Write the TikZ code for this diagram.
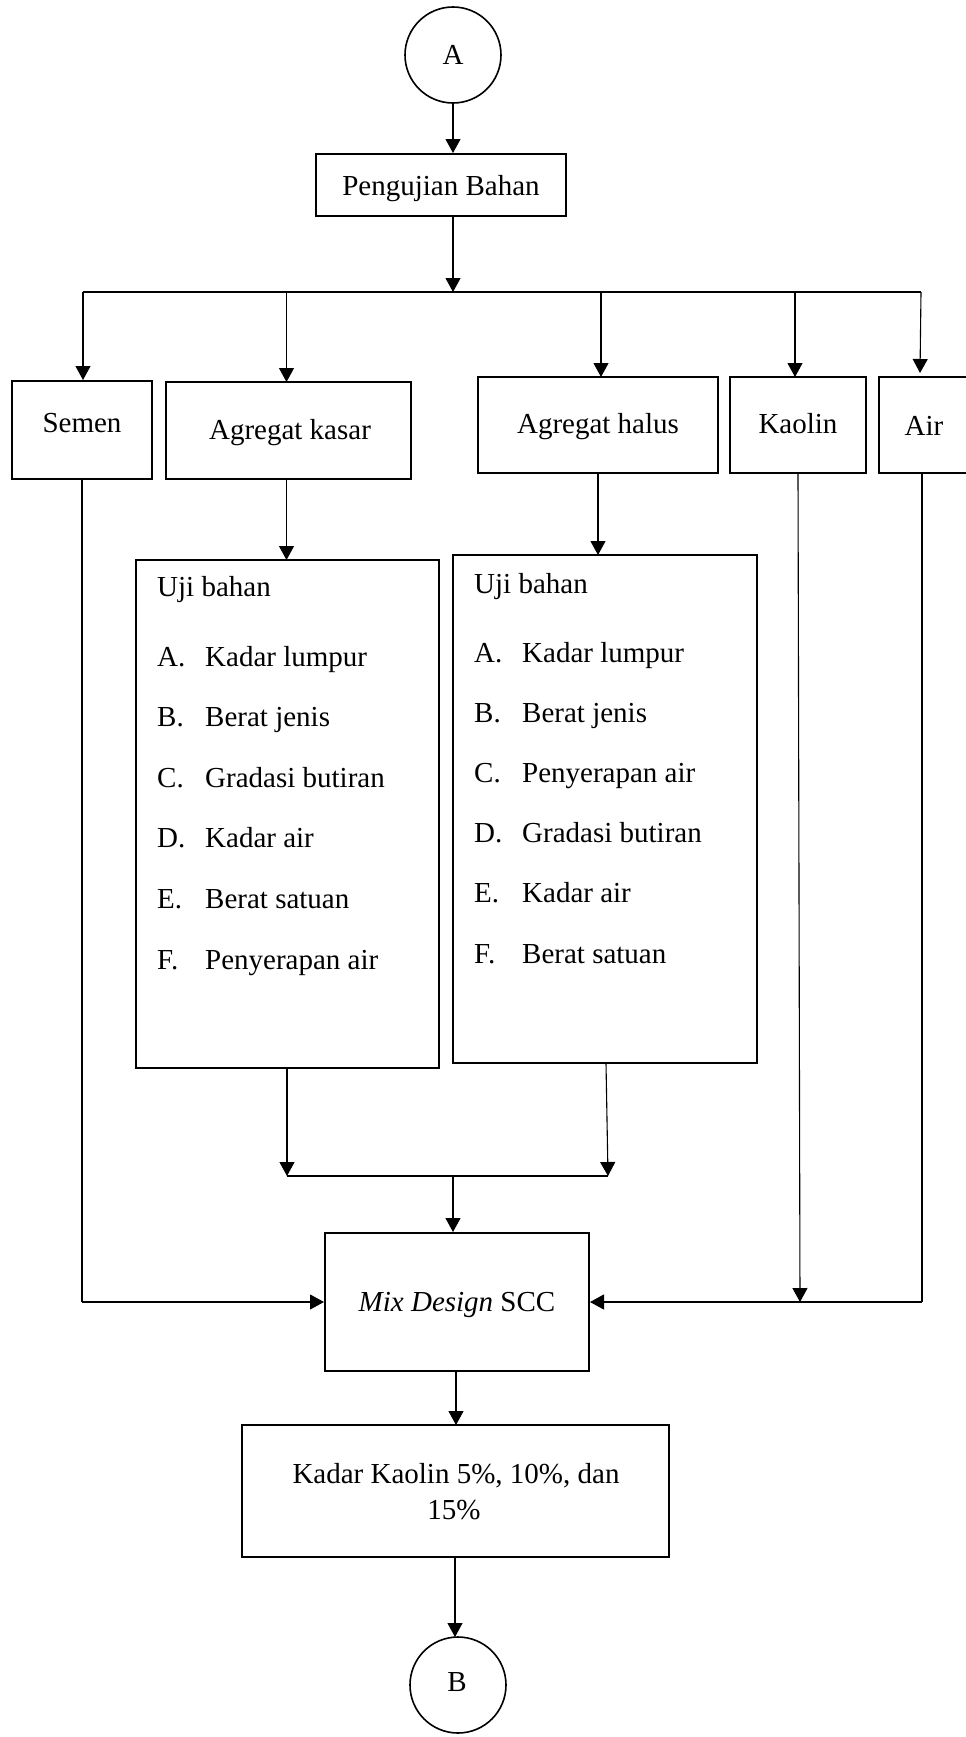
\documentclass[tikz,border=0pt]{standalone}
\usepackage{fontspec}
\setmainfont{Liberation Serif}
\usetikzlibrary{arrows.meta}
\tikzset{
  box/.style={draw, line width=2pt, inner sep=0pt},
  lbl/.style={anchor=base, inner sep=0pt, font=\fontsize{29}{37}\selectfont},
  lft/.style={anchor=base west, inner sep=0pt, font=\fontsize{29}{37}\selectfont},
  conn/.style={line width=1.1pt},
  arr/.style={conn, -{Triangle[length=14pt,width=15pt]}},
  circ/.style={draw, circle, line width=1.6pt, minimum size=96pt, inner sep=0pt}
}
\newcommand{\boxat}[5]{\node[box, minimum width=#4pt, minimum height=#5pt] (#1) at (#2,#3) {};}
\begin{document}
\begin{tikzpicture}[x=1pt,y=-1pt]
\clip (0,0) rectangle (966,1737);
\fill[white] (0,0) rectangle (966,1737);
% circles
\node[circ] (A) at (453,55) {};
\node[lbl] (Atxt) at (453,64) {A};
\node[circ] (B) at (458,1685) {};
\node[lbl] (Btxt) at (457,1691) {B};
% boxes
\boxat{peng}{441}{185}{250}{62}
\node[lbl] (pengt) at (441,195) {Pengujian Bahan};
\boxat{semen}{82}{430}{140}{98}
\node[lbl] (sement) at (82,432) {Semen};
\boxat{kasar}{288.5}{430.5}{245}{97}
\node[lbl] (kasart) at (290,439) {Agregat kasar};
\boxat{halus}{598}{425}{240}{96}
\node[lbl] (halust) at (598,433) {Agregat halus};
\boxat{kaolin}{798}{425}{136}{96}
\node[lbl] (kaolint) at (798,433) {Kaolin};
\boxat{air}{934.5}{425}{111}{96}
\node[lbl] (airt) at (924,435) {Air};
\boxat{uji1}{287.5}{814}{303}{508}
\boxat{uji2}{605}{809}{304}{508}
\boxat{mix}{457}{1302}{264}{138}
\node[lbl] (mixt) at (457,1311) {\textit{Mix Design} SCC};
\boxat{kadar}{455.5}{1491}{427}{132}
\node[lbl] (kadart1) at (456,1483) {Kadar Kaolin 5\%, 10\%, dan};
\node[lbl] (kadart2) at (454,1519) {15\%};
% uji bahan lists
\node[lft] (u1h) at (157,596) {Uji bahan};
\foreach \L/\T/\y [count=\i] in {A./Kadar lumpur/666, B./Berat jenis/726, C./Gradasi butiran/787, D./Kadar air/847, E./Berat satuan/908, F./Penyerapan air/969}{
  \node[lft] (u1l\i) at (157,\y) {\L};
  \node[lft] (u1t\i) at (205,\y) {\T};
}
\node[lft] (u2h) at (474,593) {Uji bahan};
\foreach \L/\T/\y [count=\i] in {A./Kadar lumpur/662, B./Berat jenis/722, C./Penyerapan air/782, D./Gradasi butiran/842, E./Kadar air/902, F./Berat satuan/963}{
  \node[lft] (u2l\i) at (474,\y) {\L};
  \node[lft] (u2t\i) at (522,\y) {\T};
}
% connectors
\coordinate (busL) at (83,292);
\coordinate (busR) at (921,292);
\coordinate (busM) at (453,292);
\draw[arr] (A.south) -- (A.south |- peng.north);
\draw[arr] (busM |- peng.south) -- (busM);
\draw[conn] (busL) -- (busR);
\draw[arr] (busL) -- (busL |- semen.north);
\draw[arr] (286.5,292) -- (286.5,382);
\draw[arr] (601,292) -- (601,377);
\draw[arr] (795,292) -- (795,377);
\draw[arr] (busR) -- (920,373);
% to uji boxes
\draw[arr] (286.5,479) -- (286.5,560);
\draw[arr] (598,473) -- (598,555);
% merge
\coordinate (mL) at (287,1176);
\coordinate (mR) at (608,1176);
\coordinate (mM) at (453,1176);
\draw[arr] (287,1068) -- (mL);
\draw[arr] (606,1063) -- (mR);
\draw[conn] (mL) -- (mR);
\draw[arr] (mM) -- (mM |- mix.north);
% semen to mix
\coordinate (semC) at (82,1302);
\draw[conn] (semen.south) -- (semC);
\draw[arr] (semC) -- (mix.west);
% air to mix
\coordinate (airT) at (922,473);
\coordinate (airC) at (922,1302);
\draw[conn] (airT) -- (airC);
\draw[arr] (airC) -- (mix.east);
% kaolin
\draw[arr] (kaolin.south) -- (800,1302);
% mix to kadar to B
\draw[arr] (456,1371) -- (456,1425);
\draw[arr] (kadar.south -| 455,0) -- (455,1637);
\end{tikzpicture}
\end{document}
